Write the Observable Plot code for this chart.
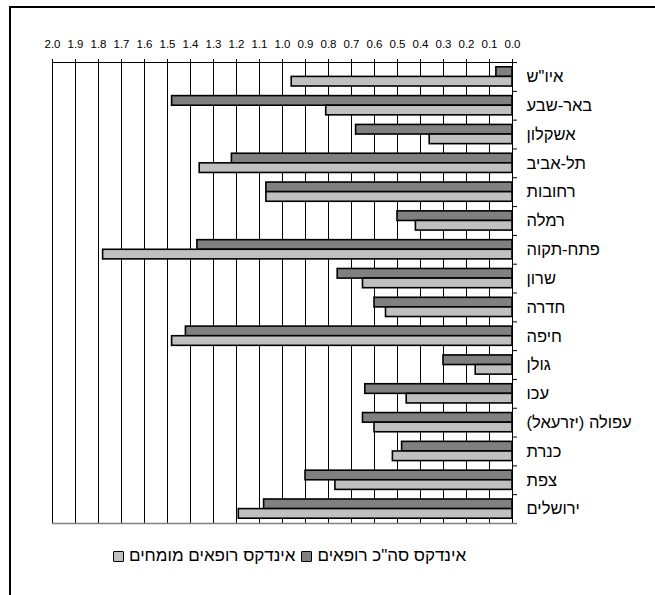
<!DOCTYPE html>
<html lang="he">
<head>
<meta charset="utf-8">
<script src="https://cdn.jsdelivr.net/npm/d3@7"></script>
<script src="https://cdn.jsdelivr.net/npm/@observablehq/plot@0.6"></script>
<style>
  html, body { margin: 0; padding: 0; background: #fff; }
  #wrap { position: relative; width: 655px; height: 595px; overflow: hidden; font-family: "Liberation Sans", Arial, sans-serif; }
  #box { position: absolute; left: 9px; top: 6px; width: 700px; height: 700px; border: 2px solid #000; box-sizing: border-box; }
  #chart { position: absolute; left: 0; top: 0; }
  #legend { position: absolute; left: 113px; top: 546px; display: flex; align-items: center; font-size: 17px; color: #000; direction: ltr; white-space: nowrap; }
  .sw { width: 9px; height: 9px; border: 1.5px solid #000; border-radius: 1px; display: inline-block; }
  .lab { margin: 0 6px 0 5px; }
</style>
</head>
<body>
<div id="wrap">
  <div id="box"></div>
  <div id="chart"></div>
  <div id="legend"></div>
</div>
<script>
// Regions, top to bottom
const regions = [
  "איו\"ש", "באר-שבע", "אשקלון", "תל-אביב", "רחובות", "רמלה", "פתח-תקוה", "שרון",
  "חדרה", "חיפה", "גולן", "עכו", "עפולה (יזרעאל)", "כנרת", "צפת", "ירושלים"
];
// Total physicians index per region
const totalIndex = [0.07, 1.48, 0.68, 1.22, 1.07, 0.50, 1.37, 0.76, 0.60, 1.42, 0.30, 0.64, 0.65, 0.48, 0.90, 1.08];
// Specialist physicians index per region
const specialistIndex = [0.96, 0.81, 0.36, 1.36, 1.07, 0.42, 1.78, 0.65, 0.55, 1.48, 0.16, 0.46, 0.60, 0.52, 0.77, 1.19];
// Axis ticks 0.0 … 2.0
const xTicks = d3.range(0, 21).map(i => i / 10);

const seriesNames = ["אינדקס סה\"כ רופאים", "אינדקס רופאים מומחים"];
const seriesColors = ["#808080", "#c0c0c0"];

// one row per region; idx is the region's slot counted from the top
const rows = regions.map((r, i) => ({region: r, idx: i, total: totalIndex[i], specialist: specialistIndex[i]}));
const slotEdges = d3.range(regions.length + 1);

const H = 535, MT = 62, MB = 12;
const slot = (H - MT - MB) / regions.length;
const RLM = "\u200F";

const chart = Plot.plot({
  width: 655,
  height: H,
  marginLeft: 52,
  marginRight: 143,
  marginTop: MT,
  marginBottom: MB,
  style: {fontFamily: "'Liberation Sans', Arial, sans-serif", color: "#000", background: "transparent"},
  x: {domain: [0, 2], reverse: true, label: null},
  y: {domain: [0, regions.length], reverse: true, label: null, axis: null},
  marks: [
    Plot.ruleX(xTicks, {stroke: "#000", strokeWidth: 1}),
    Plot.rect(rows, {x1: () => 0, x2: "total", y1: "idx", y2: d => d.idx + 1,
      fill: seriesColors[0], stroke: "#000", strokeWidth: 1.6, insetTop: 4.8, insetBottom: slot / 2}),
    Plot.rect(rows, {x1: () => 0, x2: "specialist", y1: "idx", y2: d => d.idx + 1,
      fill: seriesColors[1], stroke: "#000", strokeWidth: 1.6, insetTop: slot / 2, insetBottom: 4.8}),
    // top edge (black) and bottom edge (grey) of the plot area
    Plot.ruleY(slotEdges.slice(0, 1), {stroke: "#000", strokeWidth: 1}),
    Plot.ruleY(slotEdges.slice(-1), {x1: () => 2, x2: () => 0, insetRight: -5, stroke: "#808080", strokeWidth: 1.3}),
    // region boundary ticks on the right-hand axis
    Plot.ruleY(slotEdges.slice(0, -1), {x1: () => 0, x2: () => 0, insetRight: -5, stroke: "#000"}),
    Plot.axisX({anchor: "top", ticks: xTicks, tickFormat: d => d.toFixed(1), tickSize: 4, tickPadding: 11,
      fontSize: 11.5, label: null}),
    Plot.text(rows, {y: d => d.idx + 0.5, frameAnchor: "right", text: d => RLM + d.region + RLM,
      textAnchor: "start", dx: 14, fontSize: 16.5, fill: "#000"})
  ]
});
document.getElementById("chart").appendChild(chart);

// Legend
const legend = document.getElementById("legend");
[1, 0].forEach(i => {
  const sw = document.createElement("span");
  sw.className = "sw";
  sw.style.background = seriesColors[i];
  const lab = document.createElement("span");
  lab.className = "lab";
  lab.textContent = seriesNames[i];
  legend.appendChild(sw);
  legend.appendChild(lab);
});
</script>
</body>
</html>
